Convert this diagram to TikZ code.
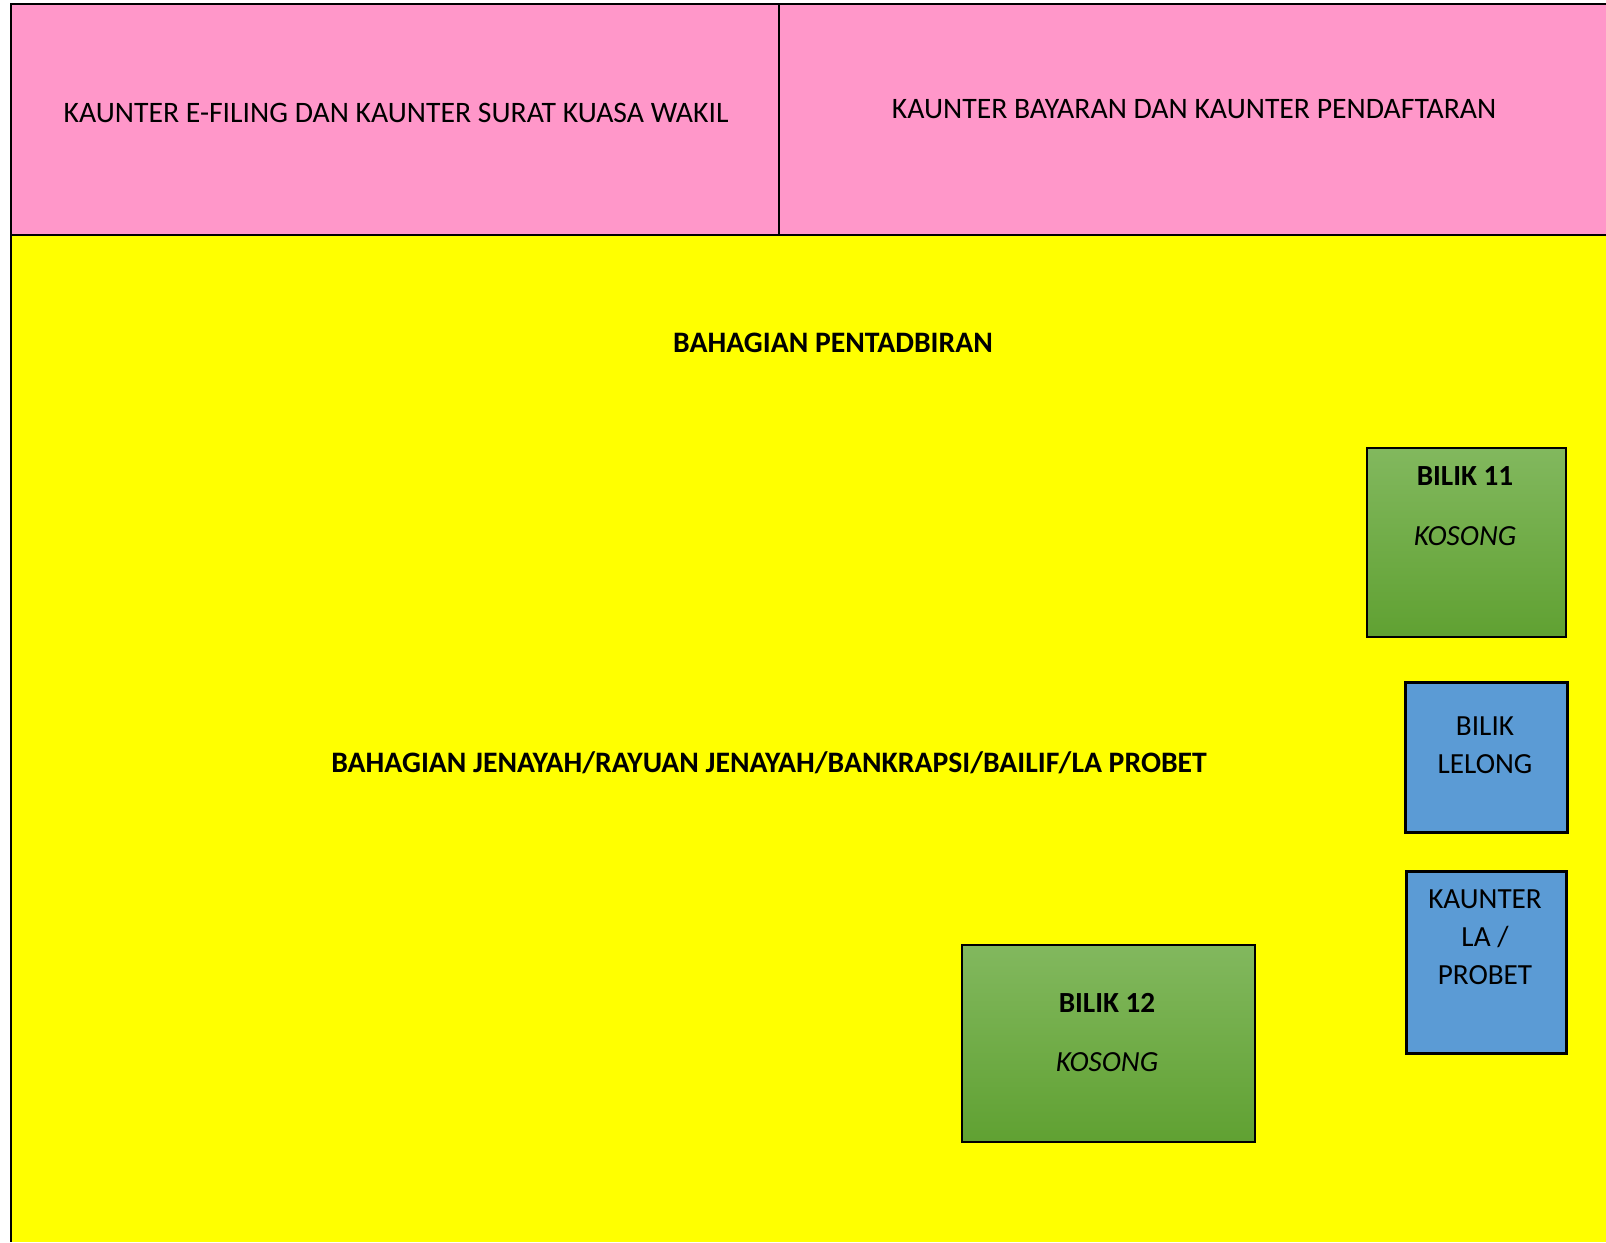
\documentclass[tikz,border=0pt]{standalone}
\usepackage{fontspec}
\setmainfont{Carlito}
\definecolor{pinkc}{HTML}{FF97C9}
\definecolor{yellowc}{HTML}{FFFF00}
\definecolor{greentop}{HTML}{82B85E}
\definecolor{greenbot}{HTML}{60A132}
\definecolor{bluec}{HTML}{5B9BD5}
\begin{document}
\begin{tikzpicture}[x=1pt,y=-1pt,
  frame/.style={line width=2.5pt,black},
  greenbox/.style={draw=black,line width=2pt,top color=greentop,bottom color=greenbot,anchor=north west,inner sep=0pt},
  bluebox/.style={draw=black,line width=2.5pt,fill=bluec,anchor=north west,inner sep=0pt},
  txt/.style={font=\fontsize{29.7}{38}\selectfont,inner sep=0pt,align=center},
  btxt/.style={font=\fontsize{29.2}{38}\selectfont,inner sep=0pt,align=center}]
\useasboundingbox (0,0) rectangle (1606,1242);
\fill[pinkc] (11,4) rectangle (1606,235);
\fill[yellowc] (11,235) rectangle (1606,1242);
\draw[frame] (1606,4) -- (11,4) -- (11,1242);
\draw[frame] (11,235) -- (1606,235);
\draw[line width=2pt] (779,4) -- (779,235);
\node[txt] (kef) at (396,113) {KAUNTER E-FILING DAN KAUNTER SURAT KUASA WAKIL};
\node[txt] (kbp) at (1194,109) {KAUNTER BAYARAN DAN KAUNTER PENDAFTARAN};
\node[txt,font=\fontsize{29.7}{38}\selectfont\bfseries] (pent) at (833,343) {BAHAGIAN PENTADBIRAN};
\node[txt,font=\fontsize{29.7}{38}\selectfont\bfseries] (jen) at (769,763) {BAHAGIAN JENAYAH/RAYUAN JENAYAH/BANKRAPSI/BAILIF/LA PROBET};
% boxes
\node[greenbox,minimum width=199pt,minimum height=189pt] (b11) at (1366,447) {};
\node[btxt,font=\fontsize{29.2}{38}\selectfont\bfseries] (b11t) at (1465,476) {BILIK 11};
\node[btxt,font=\fontsize{29.2}{38}\selectfont\itshape] (b11k) at (1465,536) {KOSONG};
\node[bluebox,minimum width=162pt,minimum height=150pt] (lel) at (1404,681) {};
\node[btxt] (lelt) at (1485,745) {BILIK\\LELONG};
\node[bluebox,minimum width=160pt,minimum height=182pt] (kla) at (1405,870) {};
\node[btxt] (klat) at (1485,937) {KAUNTER\\LA /\\PROBET};
\node[greenbox,minimum width=293pt,minimum height=197pt] (b12) at (961,944) {};
\node[btxt,font=\fontsize{29.2}{38}\selectfont\bfseries] (b12t) at (1107,1003) {BILIK 12};
\node[btxt,font=\fontsize{29.2}{38}\selectfont\itshape] (b12k) at (1107,1062) {KOSONG};
\end{tikzpicture}
\end{document}
